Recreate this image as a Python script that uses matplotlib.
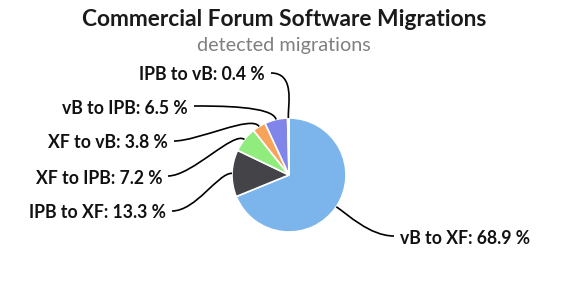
import matplotlib.pyplot as plt
from matplotlib.path import Path
from matplotlib.patches import PathPatch
import numpy as np

labels = ["vB to XF", "IPB to XF", "XF to IPB", "XF to vB", "vB to IPB", "IPB to vB"]
shares = [68.9, 13.3, 7.2, 3.8, 6.5, 0.4]
colors = ["#7cb5ec", "#434348", "#90ed7d", "#f7a35c", "#8085e9", "#f15c80"]

# label anchor (pixel coords, y from top) and alignment
label_pos = [(400, 238, "left"), (166, 213, "right"), (162, 178, "right"),
             (168, 143, "right"), (188, 108, "right"), (265, 75, "right")]

W, H = 568, 300
plt.rcParams['font.family'] = ['Lato', 'DejaVu Sans']

fig = plt.figure(figsize=(W / 100, H / 100), dpi=100, facecolor='white')
ax = fig.add_axes([0, 0, 1, 1])

cx, cy, r = 289, H - 175, 57
wedges, _ = ax.pie(shares, colors=colors, startangle=90, counterclock=False,
                   center=(cx, cy), radius=r, frame=True,
                   wedgeprops=dict(edgecolor='white', linewidth=1.2))
ax.set_xlim(0, W)
ax.set_ylim(0, H)
ax.set_aspect('auto')
ax.axis('off')

for w, lab, val, (lx, ly, ha) in zip(wedges, labels, shares, label_pos):
    ang = np.deg2rad((w.theta1 + w.theta2) / 2)
    u = np.array([np.cos(ang), np.sin(ang)])
    p0 = np.array([cx, cy]) + r * u
    p1 = np.array([cx, cy]) + (r + 14) * u
    ly_m = H - ly
    if ha == "right":
        end = np.array([lx + 6, ly_m + 2])
        c2 = np.array([lx + 30, ly_m + 2])
    else:
        end = np.array([lx - 6, ly_m + 2])
        c2 = np.array([lx - 30, ly_m + 2])
    path = Path([p0, p1, c2, end], [Path.MOVETO, Path.CURVE4, Path.CURVE4, Path.CURVE4])
    ax.add_patch(PathPatch(path, fill=False, edgecolor='black', lw=1.2))
    ax.text(lx, ly_m, f"{lab}: {val} %", ha=ha, va='center', fontsize=12.7,
            fontweight='bold', color='#111111')

ax.text(W / 2, H - 20, "Commercial Forum Software Migrations", ha='center', va='center',
        fontsize=16.4, fontweight='bold', color='#1a1a1a')
ax.text(W / 2, H - 46, "detected migrations", ha='center', va='center',
        fontsize=14.3, color='#808080')

fig.savefig("out.png", dpi=100, facecolor='white')
